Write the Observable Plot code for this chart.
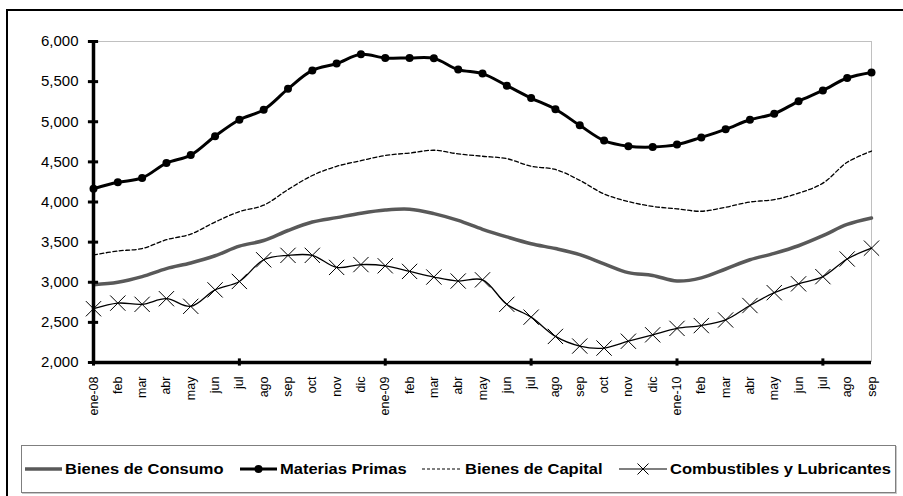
<!DOCTYPE html>
<html><head><meta charset="utf-8">
<script src="https://cdn.jsdelivr.net/npm/d3@7"></script>
<script src="https://cdn.jsdelivr.net/npm/@observablehq/plot@0.6"></script>
<style>
body{margin:0;background:#fff;overflow:hidden;width:903px;height:496px;position:relative;font-family:"Liberation Sans",Arial,sans-serif}
#frame{position:absolute;left:6px;top:9px;width:1000px;height:1000px;border:2px solid #000}
#chart{position:absolute;left:0;top:0}
#legend{position:absolute;left:21px;top:445px;width:873px;height:46px;border:1px solid #7f7f7f;box-shadow:1px 1px 0 #c8c8c8;background:#fff}
.sample{position:absolute;top:16px}
.ltext{position:absolute;top:0;height:46px;line-height:46px;font-weight:bold;font-size:15px;color:#000;white-space:nowrap;transform-origin:0 50%;transform:scaleX(1.1)}
</style></head><body>
<div id="frame"></div><div id="chart"></div><div id="legend"></div>
<script>
const months = ["ene-08","feb","mar","abr","may","jun","jul","ago","sep","oct","nov","dic",
  "ene-09","feb","mar","abr","may","jun","jul","ago","sep","oct","nov","dic",
  "ene-10","feb","mar","abr","may","jun","jul","ago","sep"];
const consumo = [2970,3000,3070,3170,3240,3330,3450,3520,3645,3750,3805,3860,
  3900,3910,3855,3770,3660,3565,3480,3420,3345,3230,3120,3085,
  3015,3055,3165,3280,3360,3455,3580,3720,3800];
const materias = [4165,4245,4300,4485,4585,4820,5025,5150,5410,5640,5725,5840,
  5795,5795,5790,5650,5600,5450,5295,5155,4955,4765,4695,4685,
  4715,4805,4905,5025,5100,5255,5390,5545,5615];
const capital = [3340,3390,3420,3530,3600,3750,3880,3960,4155,4330,4445,4515,
  4580,4610,4645,4600,4570,4540,4445,4405,4270,4100,4005,3945,
  3915,3885,3935,4000,4030,4110,4235,4495,4635];
const combustibles = [2670,2740,2725,2795,2700,2905,3010,3280,3335,3335,3185,3220,
  3205,3135,3065,3015,3030,2725,2565,2325,2205,2180,2265,2345,
  2425,2460,2530,2710,2870,2980,3070,3290,3425];
const yTicks = [2000,2500,3000,3500,4000,4500,5000,5500,6000];
const majorTicks = [0,6,12,18,24,30];
const seriesNames = ["Bienes de Consumo","Materias Primas","Bienes de Capital","Combustibles y Lubricantes"];

const data = months.map((m,i)=>({i, m, consumo:consumo[i], materias:materias[i], capital:capital[i], combustibles:combustibles[i]}));
const idx = d3.range(months.length);

const chart = Plot.plot({
  width: 903, height: 445,
  marginLeft: 93, marginRight: 32, marginTop: 41, marginBottom: 83,
  style: {fontFamily: "'Liberation Sans', Arial, sans-serif", color: "#000", background: "transparent", overflow: "visible"},
  x: {domain: [0, months.length - 1], axis: null},
  y: {domain: [2000, 6000], axis: null},
  marks: [
    Plot.ruleY([6000], {stroke: "#c0c0c0", strokeWidth: 1}),
    Plot.ruleX([months.length - 1], {stroke: "#c0c0c0", strokeWidth: 1}),
    Plot.line(data, {x: "i", y: "consumo", stroke: "#595959", strokeWidth: 3.5, curve: "catmull-rom"}),
    Plot.line(data, {x: "i", y: "capital", stroke: "#000", strokeWidth: 1.3, strokeDasharray: "4,2.5", curve: "catmull-rom"}),
    Plot.line(data, {x: "i", y: "combustibles", stroke: "#000", strokeWidth: 1.3, curve: "catmull-rom"}),
    Plot.dot(data, {x: "i", y: "combustibles", symbol: "times", r: 7, stroke: "#000", strokeWidth: 1}),
    Plot.line(data, {x: "i", y: "materias", stroke: "#000", strokeWidth: 3, curve: "catmull-rom"}),
    Plot.dot(data, {x: "i", y: "materias", r: 4, fill: "#000", stroke: "none"}),
    Plot.ruleX([0], {stroke: "#000", strokeWidth: 3.5}),
    Plot.ruleY([2000], {stroke: "#000", strokeWidth: 3.5}),
    Plot.ruleY(yTicks, {x1: () => -0.21, x2: () => 0.21, stroke: "#000", strokeWidth: 3}),
    Plot.ruleX(majorTicks, {y1: () => 1955, y2: () => 2045, stroke: "#000", strokeWidth: 3}),
    Plot.axisY(yTicks, {tickSize: 0, tickPadding: 15, tickFormat: d3.format(","), fontSize: 15, label: null}),
    Plot.axisX(idx, {tickSize: 0, tickPadding: 14, tickRotate: -90, tickFormat: i => months[i], fontSize: 12.5, label: null})
  ]
});
document.getElementById("chart").append(chart);

// Legend (positions relative to the legend box)
const legend = document.getElementById("legend");
const sampleLeft = [3, 218, 400, 597];
const sampleW = [37, 37, 40, 48];
function sample(k, w) {
  const ns = "http://www.w3.org/2000/svg";
  const svg = document.createElementNS(ns, "svg");
  svg.setAttribute("width", w); svg.setAttribute("height", 14);
  const line = document.createElementNS(ns, "line");
  line.setAttribute("x1", 0); line.setAttribute("x2", w);
  line.setAttribute("y1", 7); line.setAttribute("y2", 7);
  const styles = [
    {stroke: "#595959", sw: 3.5},
    {stroke: "#000", sw: 3},
    {stroke: "#000", sw: 1.2, dash: "3,2"},
    {stroke: "#000", sw: 1.2}
  ][k];
  line.setAttribute("stroke", styles.stroke);
  line.setAttribute("stroke-width", styles.sw);
  if (styles.dash) line.setAttribute("stroke-dasharray", styles.dash);
  svg.append(line);
  if (k === 1) {
    const c = document.createElementNS(ns, "circle");
    c.setAttribute("cx", w / 2); c.setAttribute("cy", 7); c.setAttribute("r", 4);
    svg.append(c);
  }
  if (k === 3) {
    const p = document.createElementNS(ns, "path");
    const cx = w / 2, s = 5.5;
    p.setAttribute("d", `M${cx-s},${7-s}L${cx+s},${7+s}M${cx-s},${7+s}L${cx+s},${7-s}`);
    p.setAttribute("stroke", "#000"); p.setAttribute("stroke-width", 1);
    svg.append(p);
  }
  return svg;
}
seriesNames.forEach((name, k) => {
  const s = sample(k, sampleW[k]);
  s.classList.add("sample");
  s.style.left = sampleLeft[k] + "px";
  legend.append(s);
  const span = document.createElement("div");
  span.className = "ltext";
  span.style.left = (sampleLeft[k] + sampleW[k] + 3) + "px";
  span.textContent = name;
  legend.append(span);
});
</script>
</body></html>
